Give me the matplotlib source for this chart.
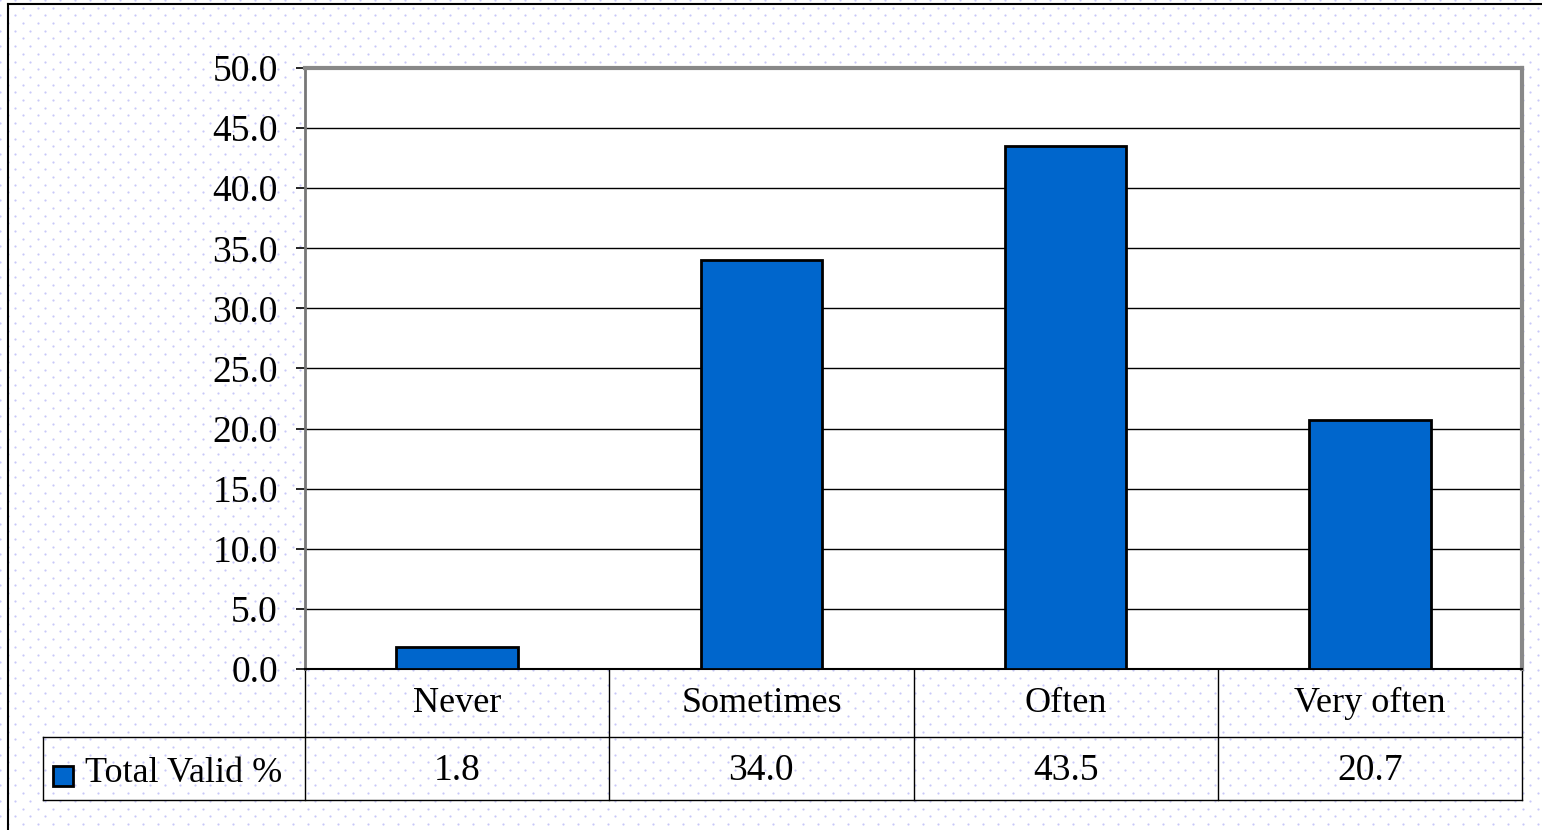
import matplotlib.pyplot as plt
import numpy as np
from matplotlib.transforms import blended_transform_factory

# Datos del gráfico
categorias = ["Never", "Sometimes", "Often", "Very often"]
valores = [1.8, 34.0, 43.5, 20.7]
serie = "Total Valid %"

plt.rcParams['font.family'] = ['Liberation Serif', 'DejaVu Serif']

fig = plt.figure(figsize=(15.42, 8.3), dpi=100)
W, H = 1542, 830

# Fondo punteado (decoración)
fondo = fig.add_axes([0, 0, 1, 1], zorder=-5)
fondo.set_xlim(0, W)
fondo.set_ylim(H, 0)
fondo.axis("off")
filas = np.arange(0, H, 7.7)
for i, yy in enumerate(filas):
    xs = np.arange(7.5 * (i % 2), W, 15)
    fondo.scatter(xs, np.full_like(xs, yy), s=2.5, color='#c8c8f8', linewidths=0)
fondo.plot([8, W], [4, 4], color='black', lw=1.5)
fondo.plot([8, 8], [4, H], color='black', lw=1.5)

# Área del gráfico
ax = fig.add_axes([305 / W, 1 - 669 / H, 1217 / W, 601 / H])
ax.set_facecolor('white')
x = np.arange(len(categorias))
ax.bar(x, valores, width=0.4, color='#0066CC', edgecolor='black', linewidth=2, zorder=3)
ax.set_xlim(-0.5, len(categorias) - 0.5)
ax.set_ylim(0, 50)
ax.set_yticks(np.arange(0, 50.1, 5))
ax.set_yticklabels([f"{v:.1f}" for v in np.arange(0, 50.1, 5)], fontsize=27)
ax.tick_params(axis='y', direction='out', length=6.5, width=1.2, pad=13)
ax.set_xticks([])
ax.yaxis.grid(True, color='black', linewidth=1)
ax.set_axisbelow(True)
for lado in ['top', 'right']:
    ax.spines[lado].set_color('#888888')
    ax.spines[lado].set_linewidth(3)
ax.spines['left'].set_color('#777777')
ax.spines['left'].set_linewidth(2)
ax.spines['bottom'].set_color('black')
ax.spines['bottom'].set_linewidth(1.5)

# Tabla de datos debajo
y1 = -(737 - 669) / 601
y2 = -(800 - 669) / 601
xl = (43 - 305) / 1217
trans = blended_transform_factory(ax.transData, ax.transAxes)
kw = dict(color='black', lw=1, clip_on=False)
ax.plot([0, 0], [0, y2], transform=ax.transAxes, **kw)
ax.plot([1, 1], [0, y2], transform=ax.transAxes, **kw)
for b in [0.5, 1.5, 2.5]:
    ax.plot([b, b], [0, y2], transform=trans, **kw)
ax.plot([xl, 1], [y1, y1], transform=ax.transAxes, **kw)
ax.plot([xl, 1], [y2, y2], transform=ax.transAxes, **kw)
ax.plot([xl, xl], [y1, y2], transform=ax.transAxes, **kw)

yc = -(771 - 669) / 601
for xi, cat, val in zip(x, categorias, valores):
    ax.text(xi, y1 / 2, cat, transform=trans, ha='center', va='center', fontsize=26)
    ax.text(xi, yc, f"{val:.1f}", transform=trans, ha='center', va='center', fontsize=27)

# Leyenda en la tabla
fondo.add_patch(plt.Rectangle((53, 766), 20, 20, facecolor='#0066CC', edgecolor='black', lw=2))
fondo.text(85, 773, serie, ha='left', va='center', fontsize=26)

fig.savefig("out.png", dpi=100)
